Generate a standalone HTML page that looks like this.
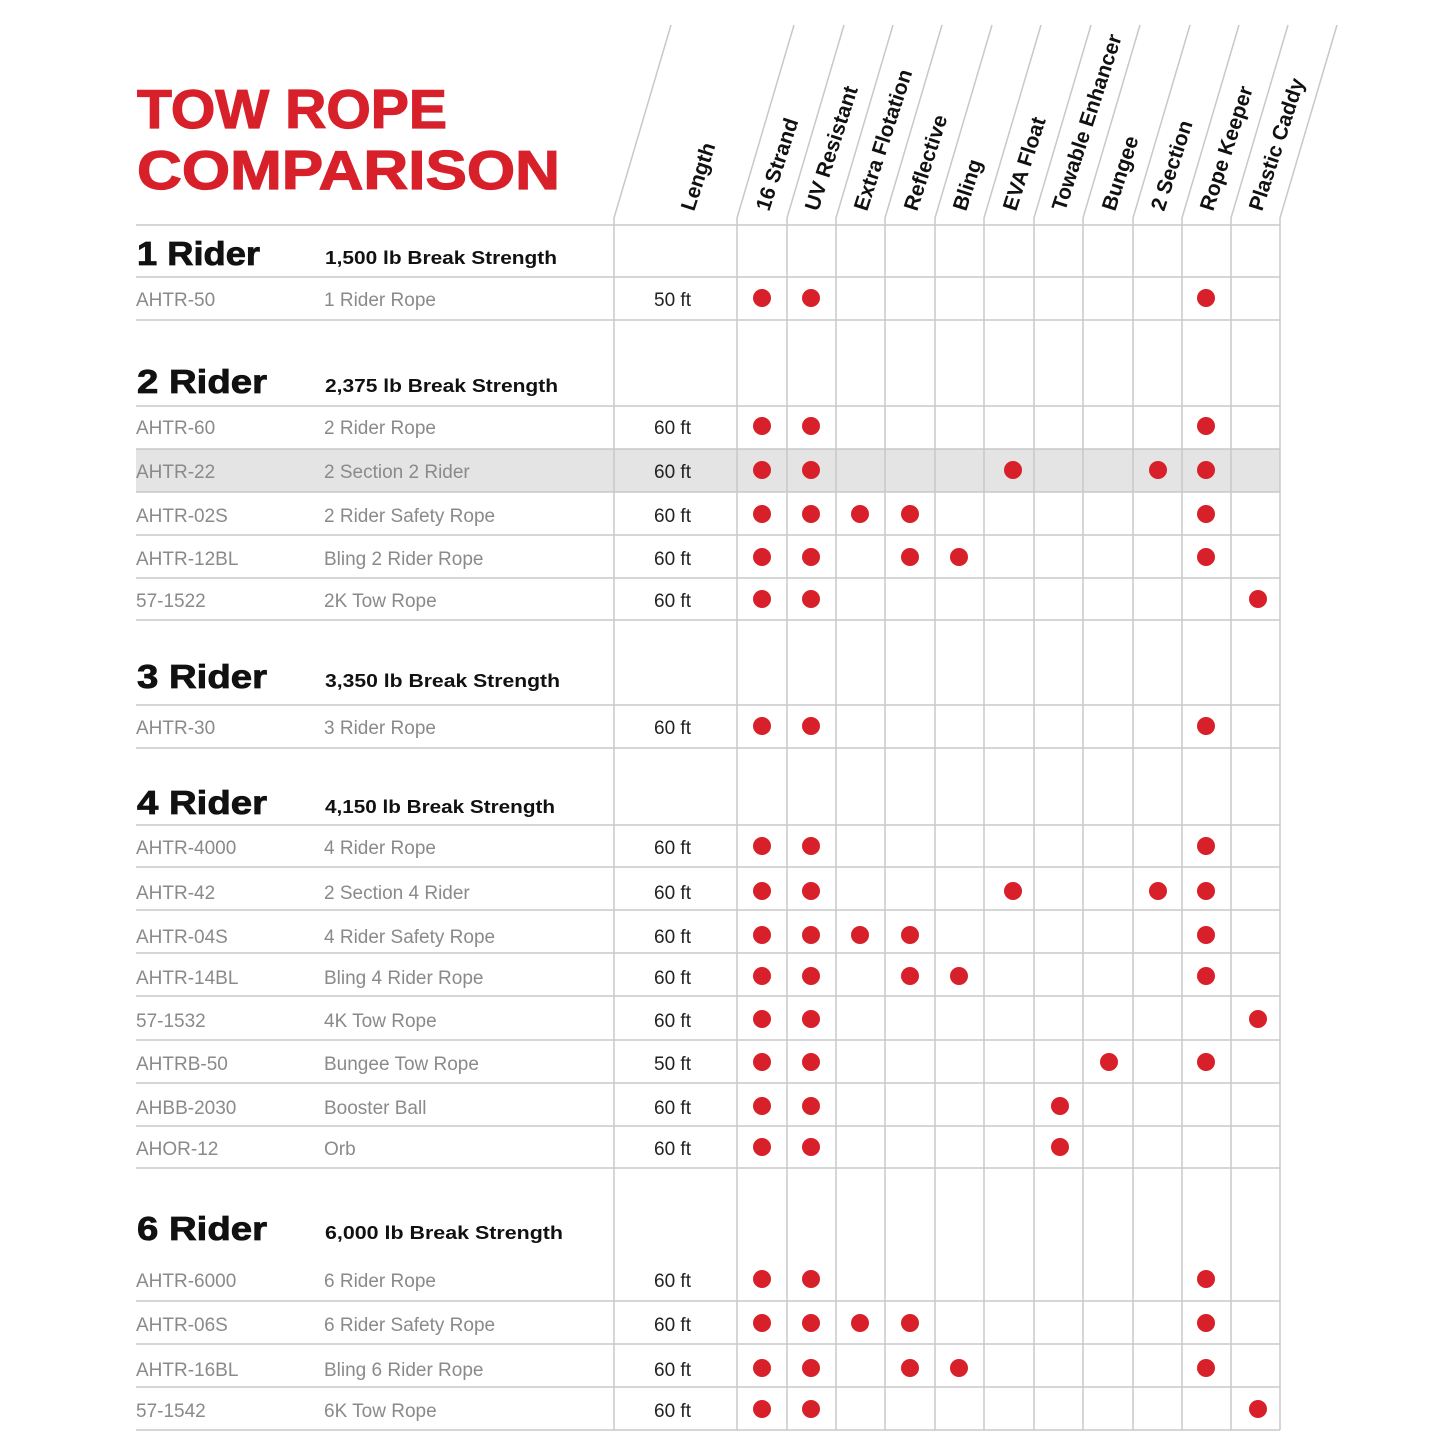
<!DOCTYPE html>
<html><head><meta charset="utf-8"><style>
html,body{margin:0;padding:0;background:#fff}
svg{display:block}
.code{font-family:"Liberation Sans",sans-serif;font-size:19px;fill:#8a8a8a}
.len{font-family:"Liberation Sans",sans-serif;font-size:19px;fill:#222}
.hd{font-family:"Liberation Sans",sans-serif;font-size:33px;font-weight:bold;fill:#111;stroke:#111;stroke-width:0.8}
.bs{font-family:"Liberation Sans",sans-serif;font-size:18px;font-weight:bold;fill:#111}
.col{font-family:"Liberation Sans",sans-serif;font-size:21px;font-weight:bold;fill:#111}
.ti{font-family:"Liberation Sans",sans-serif;font-size:55px;font-weight:bold;fill:#d7202a;stroke:#d7202a;stroke-width:1.2}
</style></head><body>
<svg width="1445" height="1445" viewBox="0 0 1445 1445" xmlns="http://www.w3.org/2000/svg">
<text class="ti" x="137" y="128" textLength="310" lengthAdjust="spacingAndGlyphs">TOW ROPE</text>
<text class="ti" x="137" y="189" textLength="423" lengthAdjust="spacingAndGlyphs">COMPARISON</text>
<rect x="136" y="449" width="1144" height="43" fill="#e4e4e4"/>
<g stroke="#c8c8c8" stroke-width="1.5" fill="none" id="grid"></g>
<g id="heads"></g>
<g id="rows"></g>
</svg>
<script>
var ns="http://www.w3.org/2000/svg";
function el(p,t,a,txt){var e=document.createElementNS(ns,t);for(var k in a)e.setAttribute(k,a[k]);if(txt!=null)e.textContent=txt;p.appendChild(e);return e;}
var g=document.getElementById('grid'),h=document.getElementById('heads'),r=document.getElementById('rows');
var xs=[614,737,787,836,885,935,984,1034,1083,1133,1182,1231,1280];
xs.forEach(function(x){el(g,'path',{d:'M'+x+' 1430 L'+x+' 218 L'+(x+57)+' 25'});});
[225,277,320,406,449,492,535,578,620,705,748,825,867,910,953,996,1040,1083,1126,1168,1301,1344,1387,1430].forEach(function(y){el(g,'line',{x1:136,x2:1280,y1:y,y2:y});});
var cols=['Length','16 Strand','UV Resistant','Extra Flotation','Reflective','Bling','EVA Float','Towable Enhancer','Bungee','2 Section','Rope Keeper','Plastic Caddy'];
cols.forEach(function(c,i){var x=i==0?694:xs[i+1]-18;var y=212;el(h,'text',{class:'col','text-anchor':'start',transform:'translate('+x+','+y+') rotate(-72)'},c);});
var heads=[[265,'1 Rider','1,500 lb Break Strength',123,232],[393,'2 Rider','2,375 lb Break Strength',130,233],[688,'3 Rider','3,350 lb Break Strength',130,235],[814,'4 Rider','4,150 lb Break Strength',130,230],[1240,'6 Rider','6,000 lb Break Strength',130,238]];
heads.forEach(function(a){el(r,'text',{class:'hd',x:137,y:a[0],textLength:a[3],lengthAdjust:'spacingAndGlyphs'},a[1]);el(r,'text',{class:'bs',x:325,y:a[0]-1,textLength:a[4],lengthAdjust:'spacingAndGlyphs'},a[2]);});
var cx=[762,811,860,910,959,1013,1060,1109,1158,1206,1258];
var rows=[[298,'AHTR-50','1 Rider Rope','50 ft',[0,1,9]],[426,'AHTR-60','2 Rider Rope','60 ft',[0,1,9]],[470,'AHTR-22','2 Section 2 Rider','60 ft',[0,1,5,8,9]],[514,'AHTR-02S','2 Rider Safety Rope','60 ft',[0,1,2,3,9]],[557,'AHTR-12BL','Bling 2 Rider Rope','60 ft',[0,1,3,4,9]],[599,'57-1522','2K Tow Rope','60 ft',[0,1,10]],[726,'AHTR-30','3 Rider Rope','60 ft',[0,1,9]],[846,'AHTR-4000','4 Rider Rope','60 ft',[0,1,9]],[891,'AHTR-42','2 Section 4 Rider','60 ft',[0,1,5,8,9]],[935,'AHTR-04S','4 Rider Safety Rope','60 ft',[0,1,2,3,9]],[976,'AHTR-14BL','Bling 4 Rider Rope','60 ft',[0,1,3,4,9]],[1019,'57-1532','4K Tow Rope','60 ft',[0,1,10]],[1062,'AHTRB-50','Bungee Tow Rope','50 ft',[0,1,7,9]],[1106,'AHBB-2030','Booster Ball','60 ft',[0,1,6]],[1147,'AHOR-12','Orb','60 ft',[0,1,6]],[1279,'AHTR-6000','6 Rider Rope','60 ft',[0,1,9]],[1323,'AHTR-06S','6 Rider Safety Rope','60 ft',[0,1,2,3,9]],[1368,'AHTR-16BL','Bling 6 Rider Rope','60 ft',[0,1,3,4,9]],[1409,'57-1542','6K Tow Rope','60 ft',[0,1,10]]];
rows.forEach(function(a){var y=a[0];el(r,'text',{class:'code',x:136,y:y+8},a[1]);el(r,'text',{class:'code',x:324,y:y+8},a[2]);el(r,'text',{class:'len',x:654,y:y+8},a[3]);
a[4].forEach(function(i){el(r,'circle',{cx:cx[i],cy:y,r:9,fill:'#d7202a'});});});
</script>
</body></html>
